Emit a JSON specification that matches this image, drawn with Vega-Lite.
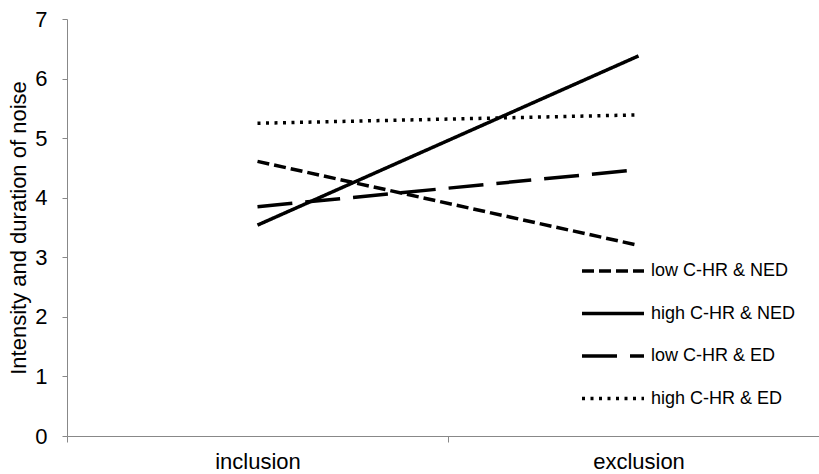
{
  "$schema": "https://vega.github.io/schema/vega-lite/v6.json",
  "width": 752,
  "height": 417,
  "autosize": {"type": "none"},
  "padding": {"left": 67, "top": 19, "right": 0, "bottom": 38},
  "background": "white",
  "data": {
    "values": [
      {"condition": "inclusion", "group": "low C-HR & NED", "value": 4.61},
      {"condition": "exclusion", "group": "low C-HR & NED", "value": 3.2},
      {"condition": "inclusion", "group": "high C-HR & NED", "value": 3.54},
      {"condition": "exclusion", "group": "high C-HR & NED", "value": 6.38},
      {"condition": "inclusion", "group": "low C-HR & ED", "value": 3.85},
      {"condition": "exclusion", "group": "low C-HR & ED", "value": 4.47},
      {"condition": "inclusion", "group": "high C-HR & ED", "value": 5.25},
      {"condition": "exclusion", "group": "high C-HR & ED", "value": 5.39}
    ]
  },
  "mark": {"type": "line", "color": "black", "strokeWidth": 3.5, "strokeCap": "butt"},
  "encoding": {
    "x": {
      "field": "condition",
      "type": "nominal",
      "sort": ["inclusion", "exclusion"],
      "bandPosition": 0.5,
      "scale": {"type": "band", "paddingInner": 0, "paddingOuter": 0, "range": [0, 762]},
      "axis": {
        "title": null,
        "labelAngle": 0,
        "tickBand": "extent",
        "grid": false,
        "domainColor": "#888888",
        "tickColor": "#888888",
        "tickSize": 6,
        "labelFont": "Liberation Sans",
        "labelFontSize": 22,
        "labelColor": "black",
        "labelPadding": 9
      }
    },
    "y": {
      "field": "value",
      "type": "quantitative",
      "scale": {"domain": [0, 7], "nice": false},
      "axis": {
        "values": [0, 1, 2, 3, 4, 5, 6, 7],
        "title": "Intensity and duration of noise",
        "titleFont": "Liberation Sans",
        "titleFontSize": 22,
        "titleFontWeight": "normal",
        "titleColor": "black",
        "titlePadding": 4,
        "grid": false,
        "domainColor": "#888888",
        "tickColor": "#888888",
        "tickSize": 5,
        "labelFont": "Liberation Sans",
        "labelFontSize": 22,
        "labelColor": "black",
        "labelPadding": 15
      }
    },
    "strokeDash": {
      "field": "group",
      "type": "nominal",
      "scale": {
        "domain": ["low C-HR & NED", "high C-HR & NED", "low C-HR & ED", "high C-HR & ED"],
        "range": [[12, 5], [1, 0], [35, 13], [3, 5.5]]
      },
      "legend": {
        "title": null,
        "orient": "none",
        "legendX": 513,
        "legendY": 219,
        "padding": 0,
        "symbolType": "stroke",
        "symbolSize": 3844,
        "symbolStrokeWidth": 3.5,
        "symbolStrokeColor": "black",
        "labelFont": "Liberation Sans",
        "labelFontSize": 18,
        "labelColor": "black",
        "labelOffset": 5,
        "rowPadding": 0.5
      }
    }
  },
  "config": {"view": {"stroke": null}}
}
